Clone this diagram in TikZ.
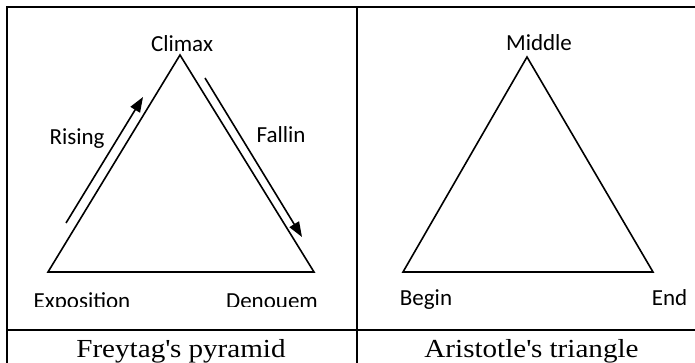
\documentclass[tikz,border=0pt]{standalone}
\usepackage{fontspec}
\setmainfont{Liberation Serif}
\newfontfamily\labelfont{Carlito}
\newfontfamily\captionfont[FakeStretch=1.12]{Liberation Serif}
\usetikzlibrary{arrows.meta}
\tikzset{
  tri/.style={line width=1.6pt, line join=miter},
  rule/.style={line width=2.4pt},
  flow/.style={line width=1.6pt, -{Triangle[length=15pt,width=11pt]}},
  lbl/.style={font=\labelfont\fontsize{23}{27}\selectfont, inner sep=0pt, anchor=base},
  captiontext/.style={font=\captionfont\fontsize{26}{30}\selectfont, inner sep=0pt, anchor=base}
}
\begin{document}
\begin{tikzpicture}[x=1pt,y=-1pt]
\useasboundingbox (0,0) rectangle (695,363);
% table rules
\coordinate (tl) at (7,7);
\coordinate (tr) at (695,7);
\coordinate (bl) at (7,363);
\coordinate (mt) at (357,7);
\coordinate (mb) at (357,363);
\coordinate (hl) at (7,330);
\coordinate (hr) at (695,330);
\draw[rule] (tr) -- (tl) -- (bl);
\draw[rule] (mt) -- (mb);
\draw[rule] (hl) -- (hr);
% Freytag's pyramid
\coordinate (fa) at (180,55);
\coordinate (fl) at (48,272);
\coordinate (fr) at (314,272);
\draw[tri] (fa) -- (fl) -- (fr) -- cycle;
\coordinate (r1) at (66,223);
\coordinate (r2) at (143,97);
\coordinate (f1) at (205,78);
\coordinate (f2) at (302,237);
\draw[flow] (r1) -- (r2);
\draw[flow] (f1) -- (f2);
\node[lbl] (climax) at (182,52) {Climax};
\node[lbl] (rising) at (77,145) {Rising};
\node[lbl] (fallin) at (281,143) {Fallin};
\begin{scope}
\clip (7,0) rectangle (357,306);
\node[lbl] (expo) at (82,308) {Exposition};
\node[lbl] (deno) at (272,308) {Denouem};
\end{scope}
% Aristotle's triangle
\coordinate (aa) at (527,57);
\coordinate (al) at (403,272);
\coordinate (ar) at (653,272);
\draw[tri] (aa) -- (al) -- (ar) -- cycle;
\node[lbl] (middle) at (539,51) {Middle};
\node[lbl] (begin) at (426,305) {Begin};
\node[lbl] (end) at (669.5,305) {End};
% captions
\node[captiontext] (freytag) at (181,357) {Freytag\textquotesingle s pyramid};
\node[captiontext] (aristotle) at (531.5,357) {Aristotle\textquotesingle s triangle};
\end{tikzpicture}
\end{document}
